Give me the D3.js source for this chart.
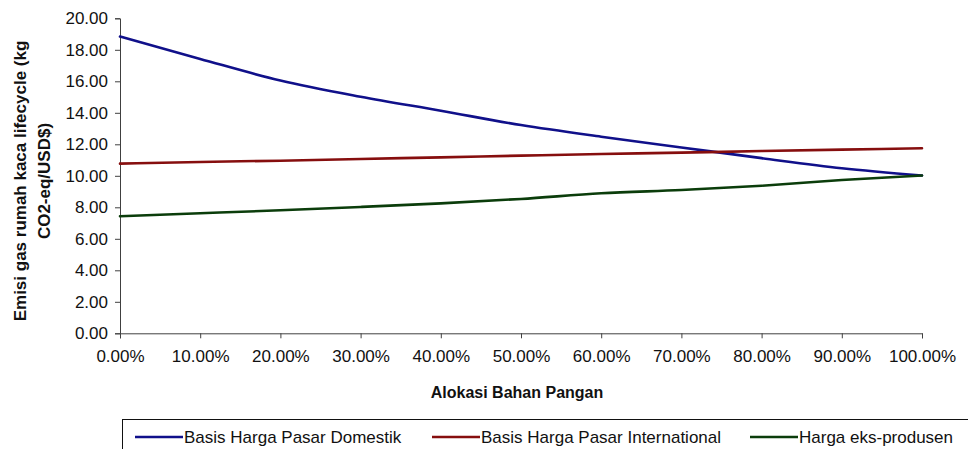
<!DOCTYPE html>
<html>
<head>
<meta charset="utf-8">
<script src="https://cdn.jsdelivr.net/npm/d3@7"></script>
<style>
  html, body { margin: 0; padding: 0; background: #ffffff; }
  svg { display: block; font-family: "Liberation Sans", Arial, sans-serif; }
</style>
</head>
<body>
<svg id="chart" width="968" height="449"></svg>
<script>
// Allocation share (fraction of food product) on the x axis
const allocation = [0, 0.1, 0.2, 0.3, 0.4, 0.5, 0.6, 0.7, 0.8, 0.9, 1.0];

// Lifecycle GHG emission (kg CO2-eq / USD$) per allocation basis
const domestik      = [18.84, 17.42, 16.05, 15.02, 14.13, 13.22, 12.48, 11.80, 11.12, 10.48, 10.02];
const international = [10.77, 10.88, 10.96, 11.07, 11.17, 11.28, 11.38, 11.47, 11.57, 11.66, 11.75];
const eksProdusen   = [7.43, 7.62, 7.81, 8.02, 8.25, 8.53, 8.89, 9.10, 9.37, 9.73, 10.02];

const seriesNames  = ["Basis Harga Pasar Domestik", "Basis Harga Pasar International", "Harga eks-produsen"];
const seriesColors = ["#10108a", "#860e0e", "#0b3d0b"];

const yTicks = [0, 2, 4, 6, 8, 10, 12, 14, 16, 18, 20];
const xTicks = allocation;

const yTitleLines = ["Emisi gas rumah kaca lifecycle (kg", "CO2-eq/USD$)"];
const xTitle = "Alokasi Bahan Pangan";

const series = [domestik, international, eksProdusen].map((vals, i) => ({
  name: seriesNames[i],
  color: seriesColors[i],
  points: vals.map((v, j) => ({ x: allocation[j], y: v }))
}));

const svg = d3.select("#chart");
const plot = { left: 120, right: 922, top: 18.3, bottom: 333.3 };

const x = d3.scaleLinear().domain([0, 1]).range([plot.left, plot.right]);
const y = d3.scaleLinear().domain([0, 20]).range([plot.bottom, plot.top]);

// Y axis
const yAxis = svg.append("g")
  .attr("transform", `translate(${plot.left},0)`)
  .call(d3.axisLeft(y).tickValues(yTicks).tickSize(5).tickPadding(7)
    .tickFormat(d3.format(".2f")));
yAxis.select(".domain").attr("stroke", "#404040");
yAxis.selectAll(".tick line").attr("stroke", "#404040");
yAxis.selectAll(".tick text")
  .attr("font-size", 17).attr("fill", "#111").attr("font-family", "Liberation Sans, Arial, sans-serif");

// X axis
const xAxis = svg.append("g")
  .attr("transform", `translate(0,${plot.bottom})`)
  .call(d3.axisBottom(x).tickValues(xTicks).tickSize(5).tickPadding(12)
    .tickFormat(d => d3.format(".2f")(d * 100) + "%"));
xAxis.select(".domain").attr("stroke", "#404040");
xAxis.selectAll(".tick line").attr("stroke", "#404040");
xAxis.selectAll(".tick text")
  .attr("font-size", 17).attr("fill", "#111").attr("font-family", "Liberation Sans, Arial, sans-serif");

// Series lines
const line = d3.line()
  .x(d => x(d.x))
  .y(d => y(d.y))
  .curve(d3.curveMonotoneX);

svg.append("g").selectAll("path")
  .data(series)
  .join("path")
  .attr("d", d => line(d.points))
  .attr("fill", "none")
  .attr("stroke", d => d.color)
  .attr("stroke-width", 2.6)
  .attr("stroke-linejoin", "round")
  .attr("stroke-linecap", "round");

// Axis titles
svg.append("text")
  .attr("x", (plot.left + plot.right) / 2 - 4)
  .attr("y", 398)
  .attr("text-anchor", "middle")
  .attr("font-size", 16)
  .attr("font-weight", "bold")
  .attr("fill", "#111")
  .text(xTitle);

const yTitle = svg.append("text")
  .attr("transform", "translate(0,181) rotate(-90)")
  .attr("text-anchor", "middle")
  .attr("font-size", 17)
  .attr("font-weight", "bold")
  .attr("fill", "#111");
yTitle.selectAll("tspan")
  .data(yTitleLines)
  .join("tspan")
  .attr("x", 0)
  .attr("y", (d, i) => 26 + i * 24)
  .text(d => d);

// Legend
const legend = svg.append("g");
legend.append("rect")
  .attr("x", 122.5).attr("y", 419.5)
  .attr("width", 900).attr("height", 60)
  .attr("fill", "#ffffff").attr("stroke", "#111").attr("stroke-width", 1);

const legendX = [135, 432, 750];
const items = legend.selectAll("g.item")
  .data(series)
  .join("g")
  .attr("class", "item")
  .attr("transform", (d, i) => `translate(${legendX[i]},437)`);
items.append("line")
  .attr("x1", 0).attr("x2", 48)
  .attr("stroke", d => d.color)
  .attr("stroke-width", 2.6);
items.append("text")
  .attr("x", 49).attr("y", 6)
  .attr("font-size", 17)
  .attr("fill", "#111")
  .text(d => d.name);
</script>
</body>
</html>
